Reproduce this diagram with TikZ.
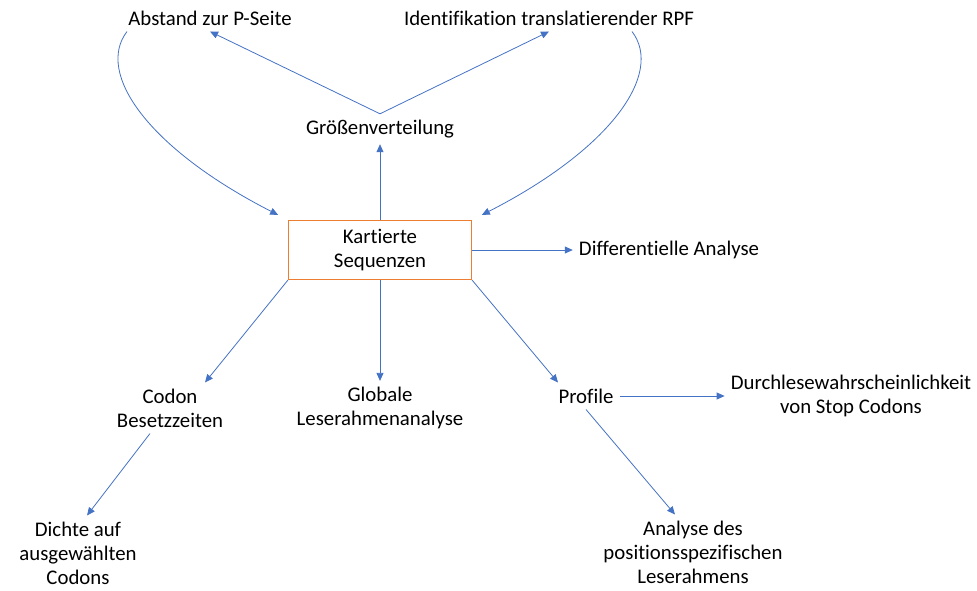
\documentclass[tikz,border=0pt]{standalone}
\usepackage{fontspec}
\setmainfont{Carlito}[Ligatures=NoCommon]
\usepackage{tikz}
\usetikzlibrary{arrows.meta}
\usetikzlibrary{positioning}

\definecolor{pfeilblau}{HTML}{4472C4}
\definecolor{kastenorange}{HTML}{ED7D31}

\tikzset{
  label/.style={align=center, inner sep=6pt},
  kasten/.style={draw=kastenorange, line width=1.1pt, align=center,
    minimum width=183pt, minimum height=59pt, inner sep=0pt},
  pfeil/.style={draw=pfeilblau, line width=0.8pt}
}

\begin{document}
\begin{tikzpicture}[x=1pt, y=-1pt, on grid, -{Triangle[length=8pt,width=7pt]},
    font=\fontsize{20.8}{24}\selectfont]
        \useasboundingbox (0,0) rectangle (977,590);

        \node [kasten] (karte) at (380,250) {Kartierte\\Sequenzen};
        \node [label, above=121pt of karte] (groesse) {Größenverteilung};
        \node [label, above left=111pt and 170pt of groesse] (abstand) {Abstand zur P-Seite};
        \node [label, above right=111pt and 169pt of groesse] (ident) {Identifikation translatierender RPF};
        \node [label, right=289pt of karte] (diff) {Differentielle Analyse};
        \node [label, below left=158pt and 210pt of karte] (codon) {Codon\\Besetzzeiten};
        \node [label, below=158pt of karte] (globale) {Globale\\Leserahmenanalyse};
        \node [label, below right=146pt and 206pt of karte] (profil) {Profile};
        \node [label, right=265pt of profil] (durchlese) {Durchlesewahrscheinlichkeit\\von Stop Codons};
        \node [label, below left=145pt and 92pt of codon] (dichte) {Dichte auf\\ausgewählten\\Codons};
        \node [label, below right=156pt and 107pt of profil] (analyse) {Analyse des\\positionsspezifischen\\Leserahmens};

        \draw [pfeil] (groesse.north) -- (abstand.south);
        \draw [pfeil] (groesse.north) -- (ident.south);
        \draw [pfeil] (karte.north) -- (groesse.south);
        \draw [pfeil, shorten >=11pt] ([xshift=-83pt]abstand.south)
            .. controls +(-32,42) and +(-139,-71) .. (karte.north west);
        \draw [pfeil, shorten >=11pt] ([xshift=83pt]ident.south)
            .. controls +(32,42) and +(139,-71) .. (karte.north east);
        \draw [pfeil] (karte.east) -- (diff.west);
        \draw [pfeil] (karte.south west) -- ([xshift=35pt]codon.north);
        \draw [pfeil] (karte.south) -- (globale.north);
        \draw [pfeil] (karte.south east) -- ([xshift=-28pt]profil.north);
        \draw [pfeil] (profil.east) -- (durchlese.west);
        \draw [pfeil] ([xshift=-20pt]codon.south) -- ([xshift=9pt]dichte.north);
        \draw [pfeil] (profil.south) -- ([xshift=-18pt]analyse.north);
    \end{tikzpicture}
\end{document}
